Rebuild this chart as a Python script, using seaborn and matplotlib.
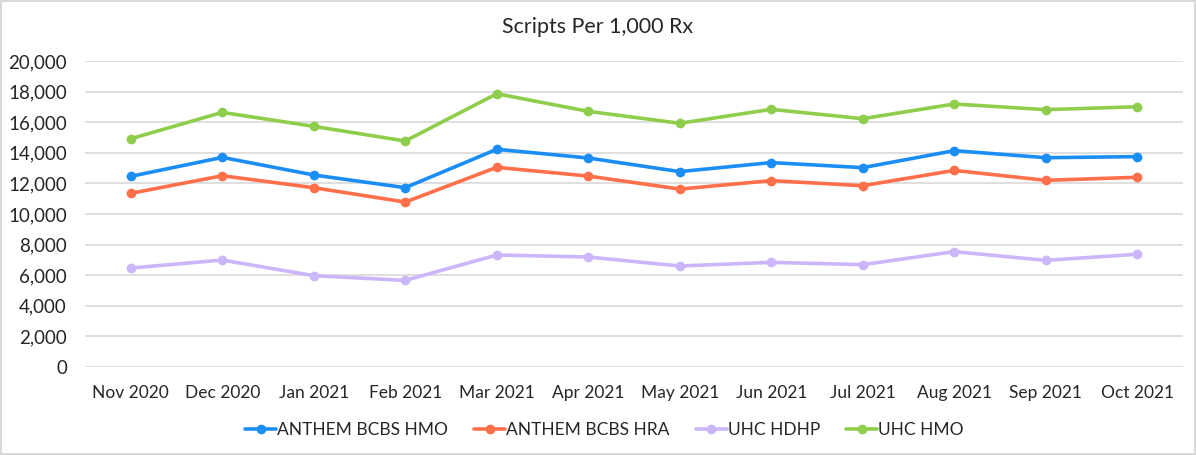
import matplotlib
matplotlib.use('Agg')
import matplotlib.pyplot as plt
import seaborn as sns
import pandas as pd

# ── Data ───────────────────────────────────────────────────────────────
months = ['Nov 2020', 'Dec 2020', 'Jan 2021', 'Feb 2021', 'Mar 2021', 'Apr 2021',
          'May 2021', 'Jun 2021', 'Jul 2021', 'Aug 2021', 'Sep 2021', 'Oct 2021']
anthem_hmo = [12460, 13700, 12550, 11720, 14230, 13660, 12770, 13360, 13030, 14140, 13680, 13750]
anthem_hra = [11350, 12500, 11720, 10780, 13050, 12480, 11630, 12180, 11850, 12850, 12200, 12400]
uhc_hdhp = [6470, 6990, 5970, 5660, 7320, 7190, 6600, 6840, 6690, 7540, 6970, 7370]
uhc_hmo = [14920, 16640, 15730, 14770, 17860, 16710, 15930, 16840, 16230, 17190, 16820, 17010]

series = {
    'ANTHEM BCBS HMO': anthem_hmo,
    'ANTHEM BCBS HRA': anthem_hra,
    'UHC HDHP': uhc_hdhp,
    'UHC HMO': uhc_hmo,
}
colors = ['#1b8ef5', '#ff6f4a', '#cbb6fa', '#8fce4c']

df = pd.DataFrame([
    {'month': m, 'idx': i, 'plan': name, 'value': v}
    for name, vals in series.items()
    for i, (m, v) in enumerate(zip(months, vals))
])

# ── Plot ───────────────────────────────────────────────────────────────
sns.set_style('white')
plt.rcParams['font.family'] = ['Lato', 'DejaVu Sans']

fig = plt.figure(figsize=(11.96, 4.55), dpi=100)
fig.patch.set_edgecolor('#d9d9d9')
fig.patch.set_linewidth(1.5)
ax = fig.add_axes([85 / 1196, 1 - 367 / 455, (1183 - 85) / 1196, (367 - 61) / 455])

sns.lineplot(data=df, x='idx', y='value', hue='plan', palette=colors,
             marker='o', markersize=7, markeredgewidth=0, linewidth=2.6,
             ax=ax, legend=True)

ax.set_xlim(-0.5, 11.5)
ax.set_ylim(0, 20000)
ax.set_yticks(range(0, 20001, 2000))
ax.set_yticklabels([f'{v:,}' for v in range(0, 20001, 2000)], fontsize=13.5, color='#262626')
ax.set_xticks(range(len(months)))
ax.set_xticklabels(months, fontsize=12.5, color='#262626')
ax.tick_params(axis='x', length=0, pad=13)
ax.tick_params(axis='y', length=0, pad=13)
ax.set_xlabel('')
ax.set_ylabel('')
ax.grid(axis='y', color='#d9d9d9', linewidth=1.2)
ax.set_axisbelow(True)
for s in ax.spines.values():
    s.set_visible(False)

fig.text(0.5, 1 - 27 / 455, 'Scripts Per 1,000 Rx', ha='center', va='center',
         fontsize=15.4, color='#262626')

# legend sits a little left of centre in the original
handles, labels = ax.get_legend_handles_labels()
ax.legend(handles, labels, loc='center', bbox_to_anchor=(0.473, -0.206),
          ncol=4, frameon=False, fontsize=12.5, handlelength=1.8,
          handletextpad=0.05, columnspacing=1.5, labelcolor='#262626')

fig.savefig('out.png', dpi=100)
